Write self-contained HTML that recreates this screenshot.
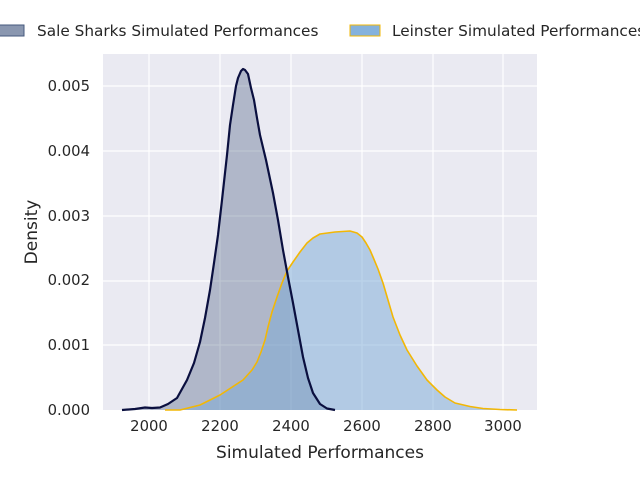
<!DOCTYPE html>
<html><head><meta charset="utf-8"><style>
html,body{margin:0;padding:0;background:#fff;}
svg{display:block;font-family:"DejaVu Sans","Liberation Sans",sans-serif;}
</style></head><body>
<svg width="640" height="480" viewBox="0 0 640 480" xmlns="http://www.w3.org/2000/svg">
<rect x="103" y="54" width="434" height="356" fill="#eaeaf2"/>
<g stroke="#fff" stroke-width="1.2">
<line x1="149" y1="54" x2="149" y2="410"/><line x1="220" y1="54" x2="220" y2="410"/>
<line x1="291" y1="54" x2="291" y2="410"/><line x1="362" y1="54" x2="362" y2="410"/>
<line x1="433" y1="54" x2="433" y2="410"/><line x1="503" y1="54" x2="503" y2="410"/>
<line x1="103" y1="86" x2="537" y2="86"/><line x1="103" y1="151" x2="537" y2="151"/>
<line x1="103" y1="216" x2="537" y2="216"/><line x1="103" y1="281" x2="537" y2="281"/>
<line x1="103" y1="345" x2="537" y2="345"/>
</g>
<path d="M122,410 L135,409 L145,407.5 L152,408 L160,407.5 L168,404 L177,398 L187,380 L194,363 L200,342 L205,318 L210,290 L214,263 L218,235 L222,200 L227,155 L230,125 L233,105 L236,86 L238,78 L241,71 L243,69 L245,70 L248,74 L251,88 L254,100 L257,118 L260,135 L266,160 L273,193 L278,220 L283,250 L288,277 L293,303 L298,330 L303,357 L308,378 L313,393 L320,404 L327,408.5 L335,410" fill="#46587e" fill-opacity="0.35" stroke="none"/>
<path d="M165,410 L180,410 L200,405 L220,395 L243,380 L252,370 L257,362 L261,352 L265,340 L268,327 L272,312 L277,297 L282,283 L287,271 L293,262 L300,252 L307,243 L313,238 L320,234 L335,232 L350,231 L357,233 L362,237 L366,243 L370,250 L373,257 L378,269 L383,283 L388,300 L393,317 L400,335 L407,350 L417,366 L427,380 L437,390 L445,397 L455,403 L470,406.5 L483,408.5 L500,409.5 L517,410" fill="#7aaad6" fill-opacity="0.5" stroke="none"/>
<path d="M165,410 L180,410 L200,405 L220,395 L243,380 L252,370 L257,362 L261,352 L265,340 L268,327 L272,312 L277,297 L282,283 L287,271 L293,262 L300,252 L307,243 L313,238 L320,234 L335,232 L350,231 L357,233 L362,237 L366,243 L370,250 L373,257 L378,269 L383,283 L388,300 L393,317 L400,335 L407,350 L417,366 L427,380 L437,390 L445,397 L455,403 L470,406.5 L483,408.5 L500,409.5 L517,410" fill="none" stroke="#f2b705" stroke-width="1.6" stroke-linejoin="round"/>
<path d="M122,410 L135,409 L145,407.5 L152,408 L160,407.5 L168,404 L177,398 L187,380 L194,363 L200,342 L205,318 L210,290 L214,263 L218,235 L222,200 L227,155 L230,125 L233,105 L236,86 L238,78 L241,71 L243,69 L245,70 L248,74 L251,88 L254,100 L257,118 L260,135 L266,160 L273,193 L278,220 L283,250 L288,277 L293,303 L298,330 L303,357 L308,378 L313,393 L320,404 L327,408.5 L335,410" fill="none" stroke="#0a0f3f" stroke-width="2.2" stroke-linejoin="round"/>
<g font-size="14.8" fill="#262626" text-anchor="middle">
<text x="149" y="431">2000</text><text x="220" y="431">2200</text><text x="291" y="431">2400</text>
<text x="362" y="431">2600</text><text x="433" y="431">2800</text><text x="503" y="431">3000</text>
</g>
<g font-size="14.8" fill="#262626" text-anchor="end">
<text x="90" y="415">0.000</text><text x="90" y="350">0.001</text><text x="90" y="285">0.002</text>
<text x="90" y="221">0.003</text><text x="90" y="156">0.004</text><text x="90" y="91">0.005</text>
</g>
<text x="320" y="458" font-size="17" fill="#262626" text-anchor="middle">Simulated Performances</text>
<text transform="translate(37,232) rotate(-90)" font-size="17" fill="#262626" text-anchor="middle">Density</text>
<rect x="-4" y="25" width="28" height="11" fill="#8a97b0" stroke="#46587e" stroke-width="1"/>
<text x="37" y="36" font-size="15.3" fill="#262626">Sale Sharks Simulated Performances</text>
<rect x="350" y="25" width="30" height="11" fill="#85b2dc" stroke="#f2b705" stroke-width="1"/>
<text x="392" y="36" font-size="15.3" fill="#262626">Leinster Simulated Performances</text>
</svg>
</body></html>
